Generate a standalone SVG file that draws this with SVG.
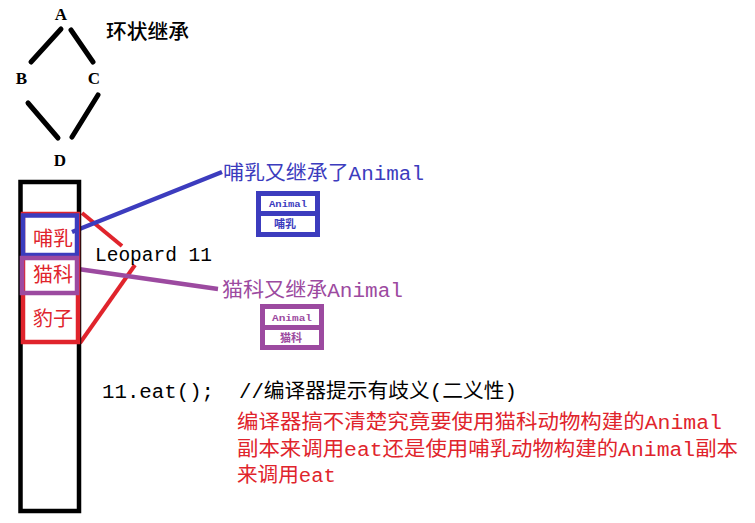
<svg xmlns="http://www.w3.org/2000/svg" width="755" height="523" viewBox="0 0 755 523">
<style>
.bg{fill:#ffffff}
.abc{font-family:"Liberation Serif",serif;font-weight:bold;font-size:17px;fill:#000;text-anchor:middle}
.zh{font-family:"Liberation Mono","Noto Sans CJK SC",monospace;font-size:20px}
.blk{fill:#000}
.red{fill:#e0242c}
.blue{fill:#3c3cbe}
.purp{fill:#9c4aa0}
.edge{stroke:#000;stroke-width:5;stroke-linecap:round;fill:none}
.small{font-family:"Liberation Mono","Noto Sans CJK SC",monospace;font-weight:bold;text-anchor:middle}
</style>
<rect class="bg" x="0" y="0" width="755" height="523"/>

<g id="diamond">
  <text class="abc" x="61" y="20">A</text>
  <text class="abc" x="21.5" y="84">B</text>
  <text class="abc" x="94" y="84">C</text>
  <text class="abc" x="60" y="166">D</text>
  <text class="zh blk" x="106" y="39" textLength="83" lengthAdjust="spacingAndGlyphs" font-weight="500">环状继承</text>
</g>

<g id="connectors">
  <line class="edge" x1="61" y1="29" x2="31" y2="62"/>
  <line class="edge" x1="71" y1="30" x2="93" y2="62"/>
  <line class="edge" x1="28" y1="103" x2="58" y2="138"/>
  <line class="edge" x1="98" y1="95" x2="72" y2="137"/>
  <line x1="82" y1="213" x2="122" y2="246" stroke="#e0242c" stroke-width="4"/>
  <line x1="135" y1="265" x2="80" y2="343" stroke="#e0242c" stroke-width="4"/>
  <line x1="72" y1="232" x2="222" y2="172" stroke="#3c3cbe" stroke-width="4.5"/>
  <line x1="78" y1="269" x2="218" y2="289" stroke="#9c4aa0" stroke-width="4.5"/>
</g>

<g id="object">
  <rect x="20.5" y="182" width="58.5" height="329" fill="none" stroke="#000" stroke-width="4.5"/>
  <rect x="23" y="214" width="55" height="128" fill="none" stroke="#e0242c" stroke-width="4.5"/>
  <rect x="23" y="215.5" width="54" height="39.5" fill="none" stroke="#3c3cbe" stroke-width="4.5"/>
  <rect x="22" y="258" width="55" height="35" fill="none" stroke="#9c4aa0" stroke-width="4.5"/>
  <text class="zh red" x="33" y="246">哺乳</text>
  <text class="zh red" x="33" y="282">猫科</text>
  <text class="zh red" x="33" y="326">豹子</text>
</g>

<g id="leopard-label">
  <text class="zh blk" x="95" y="261" textLength="117" lengthAdjust="spacingAndGlyphs">Leopard 11</text>
</g>

<g id="mammal-label">
  <text class="zh blue" x="223" y="180" textLength="201" lengthAdjust="spacingAndGlyphs">哺乳又继承了Animal</text>
</g>
<g id="mammal-box">
  <rect x="256" y="191" width="64" height="46" fill="#3c3cbe"/>
  <rect x="261" y="196" width="54" height="15" fill="#fff"/>
  <rect x="261" y="216" width="54" height="16" fill="#fff"/>
  <text class="small blue" x="288" y="207" font-size="9" textLength="38" lengthAdjust="spacingAndGlyphs">Animal</text>
  <text class="small blue" x="285" y="228" font-size="11">哺乳</text>
</g>

<g id="feline-label">
  <text class="zh purp" x="222" y="297" textLength="181" lengthAdjust="spacingAndGlyphs">猫科又继承Animal</text>
</g>
<g id="feline-box">
  <rect x="260" y="304" width="64" height="46" fill="#9c4aa0"/>
  <rect x="265" y="309" width="54" height="16" fill="#fff"/>
  <rect x="265" y="330" width="54" height="15" fill="#fff"/>
  <text class="small purp" x="292" y="321" font-size="9" textLength="40" lengthAdjust="spacingAndGlyphs">Animal</text>
  <text class="small purp" x="291" y="342" font-size="11">猫科</text>
</g>

<g id="code">
  <text class="zh blk" x="102" y="398" xml:space="preserve" textLength="415" lengthAdjust="spacingAndGlyphs">11.eat();  //编译器提示有歧义(二义性)</text>
</g>
<g id="explanation">
  <text class="zh red" x="237" y="429" textLength="485" lengthAdjust="spacingAndGlyphs">编译器搞不清楚究竟要使用猫科动物构建的Animal</text>
  <text class="zh red" x="237" y="456" textLength="501" lengthAdjust="spacingAndGlyphs">副本来调用eat还是使用哺乳动物构建的Animal副本</text>
  <text class="zh red" x="237" y="482" textLength="99" lengthAdjust="spacingAndGlyphs">来调用eat</text>
</g>
</svg>
